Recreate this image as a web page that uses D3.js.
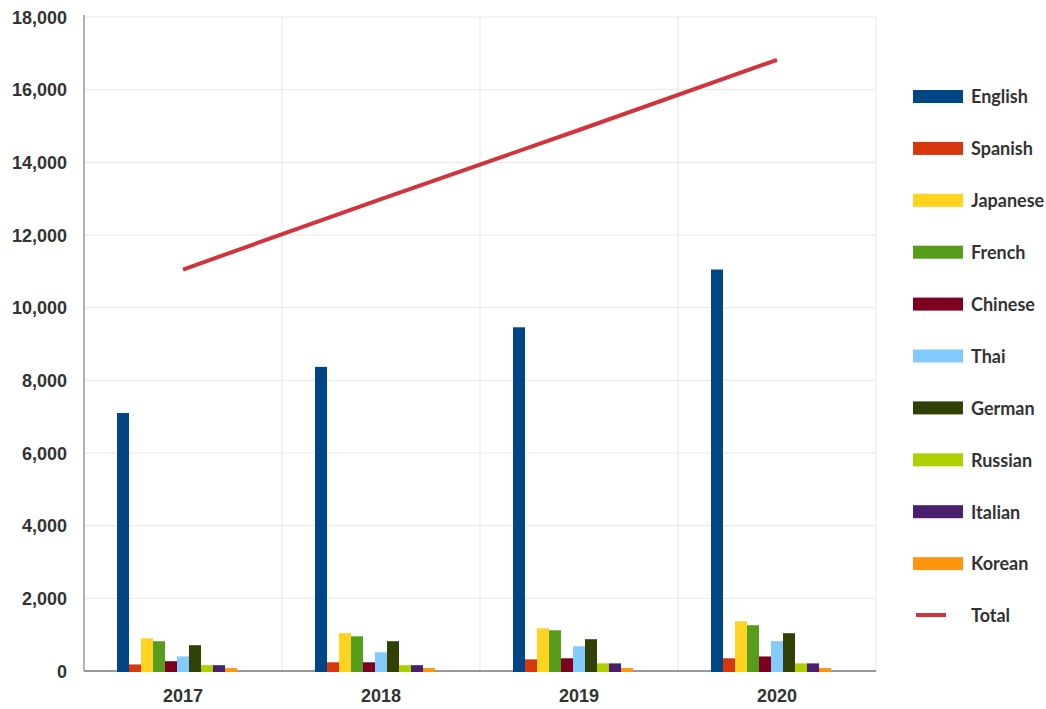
<!DOCTYPE html>
<html>
<head>
<meta charset="utf-8">
<script src="https://cdn.jsdelivr.net/npm/d3@7"></script>
<style>
  body { margin: 0; background: #fff; }
  svg { font-family: Lato, "Open Sans", sans-serif; font-weight: bold; }
  .grid line { stroke: #e8e8e8; stroke-width: 1; }
  .axis text { fill: #333; font-size: 18px; font-weight: bold; }
  .legend text { fill: #333; font-size: 18px; font-weight: bold; }
</style>
</head>
<body>
<svg id="chart" width="1046" height="709"></svg>
<script>
// data
const years = ['2017', '2018', '2019', '2020'];
const languages = ['English', 'Spanish', 'Japanese', 'French', 'Chinese', 'Thai', 'German', 'Russian', 'Italian', 'Korean'];
const colors = ['#004586', '#d7370c', '#ffd320', '#579d1c', '#7e0021', '#83caff', '#314004', '#aecf00', '#4b1f6f', '#ff950e'];
const english  = [7100, 8370, 9460, 11050];
const spanish  = [180, 240, 320, 350];
const japanese = [900, 1040, 1175, 1370];
const french   = [820, 955, 1120, 1260];
const chinese  = [270, 240, 350, 400];
const thai     = [400, 515, 680, 820];
const german   = [710, 820, 875, 1040];
const russian  = [160, 160, 210, 210];
const italian  = [160, 160, 210, 210];
const korean   = [80, 80, 80, 80];
const total    = [11050, 12990, 14890, 16820];
const yTicks   = d3.range(0, 18001, 2000);

const seriesVals = [english, spanish, japanese, french, chinese, thai, german, russian, italian, korean];

const svg = d3.select('#chart');
const margin = { left: 84, right: 170, top: 17, bottom: 38 };
const W = 1046, H = 709;
const x0 = margin.left, x1 = W - margin.right, y0 = H - margin.bottom, y1 = margin.top;

const x = d3.scaleBand().domain(years).range([x0, x1]);
// 11 slots: 10 bars + one slot for the Total series
const xs = d3.scaleBand().domain(d3.range(11)).range([0, x.bandwidth()]).paddingOuter(2.75);
const y = d3.scaleLinear().domain([0, 18000]).range([y0, y1]);

// grid
const grid = svg.append('g').attr('class', 'grid');
grid.selectAll('.h').data(yTicks.slice(1)).enter().append('line')
  .attr('x1', x0).attr('x2', x1).attr('y1', d => y(d)).attr('y2', d => y(d));
grid.selectAll('.v').data(years.slice(1).concat(['end'])).enter().append('line')
  .attr('x1', d => d === 'end' ? x1 : x(d)).attr('x2', d => d === 'end' ? x1 : x(d))
  .attr('y1', y1).attr('y2', y0);

// axes lines
svg.append('line').attr('x1', x0).attr('x2', x0).attr('y1', y1 - 2).attr('y2', y0)
  .attr('stroke', '#999').attr('stroke-width', 1.5);
svg.append('line').attr('x1', x0).attr('x2', x1).attr('y1', y0).attr('y2', y0)
  .attr('stroke', '#999').attr('stroke-width', 2);

// bars
const bars = svg.append('g');
years.forEach((yr, i) => {
  bars.selectAll(null).data(seriesVals.map((s, j) => ({ v: s[i], j }))).enter().append('rect')
    .attr('x', d => x(yr) + xs(d.j))
    .attr('width', xs.bandwidth())
    .attr('y', d => y(d.v))
    .attr('height', d => y0 - y(d.v) + 1)
    .attr('fill', d => colors[d.j]);
});

// total line
const line = d3.line().x((d, i) => x(years[i]) + x.bandwidth() / 2).y(d => y(d));
svg.append('path').datum(total).attr('d', line)
  .attr('fill', 'none').attr('stroke', '#d1343a').attr('stroke-width', 4);

const yAxis = svg.append('g').attr('class', 'axis')
  .attr('transform', `translate(${x0 - 17},0)`)
  .call(d3.axisLeft(y).tickValues(yTicks).tickSize(0).tickPadding(0).tickFormat(d3.format(',')));
yAxis.select('.domain').remove();
yAxis.selectAll('text').attr('dy', '0.35em');

const xAxis = svg.append('g').attr('class', 'axis')
  .attr('transform', `translate(0,${y0})`)
  .call(d3.axisBottom(x).tickSize(0).tickPadding(18));
xAxis.select('.domain').remove();

// legend
const legend = svg.append('g').attr('class', 'legend');
const ly = i => 97 + i * 51.9;
languages.forEach((name, i) => {
  legend.append('rect').attr('x', 913).attr('y', ly(i) - 7).attr('width', 50).attr('height', 13)
    .attr('fill', colors[i]);
  legend.append('text').attr('x', 971).attr('y', ly(i)).attr('dy', '0.35em').text(name);
});
legend.append('line').attr('x1', 916).attr('x2', 946).attr('y1', ly(10) - 1).attr('y2', ly(10) - 1)
  .attr('stroke', '#d1343a').attr('stroke-width', 4);
legend.append('text').attr('x', 971).attr('y', ly(10)).attr('dy', '0.35em').text('Total');
</script>
</body>
</html>
